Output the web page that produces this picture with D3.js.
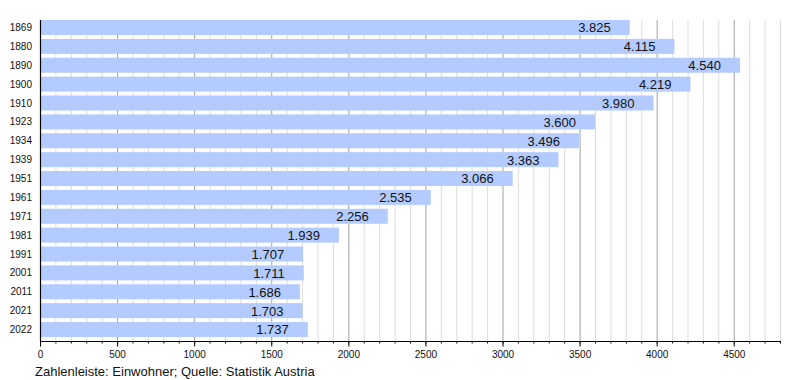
<!DOCTYPE html>
<html><head><meta charset="utf-8">
<script src="https://cdn.jsdelivr.net/npm/d3@7"></script>
<style>body{margin:0;background:#fff}svg{display:block;font-family:"Liberation Sans",Arial,sans-serif}</style>
</head><body>
<script>
const years = ["1869","1880","1890","1900","1910","1923","1934","1939","1951","1961","1971","1981","1991","2001","2011","2021","2022"];
const population = [3825,4115,4540,4219,3980,3600,3496,3363,3066,2535,2256,1939,1707,1711,1686,1703,1737];
const valueLabels = ["3.825","4.115","4.540","4.219","3.980","3.600","3.496","3.363","3.066","2.535","2.256","1.939","1.707","1.711","1.686","1.703","1.737"];
const majorTicks = [0,500,1000,1500,2000,2500,3000,3500,4000,4500];
const footer = "Zahlenleiste: Einwohner; Quelle: Statistik Austria";

const W = 800, H = 380;
const svg = d3.select("body").append("svg").attr("width", W).attr("height", H);
const x = d3.scaleLinear().domain([0, 4800]).range([40, 780]);
const y = d3.scaleBand().domain(years).range([20, 340.9]).paddingInner(0.205).paddingOuter(0.1025).align(0);
const plotTop = 20, plotBottom = 341;

const minor = d3.range(100, 4801, 100).filter(v => v % 500 !== 0);
svg.append("g").selectAll("line").data(minor).join("line")
  .attr("x1", d => x(d) + 0.5).attr("x2", d => x(d) + 0.5)
  .attr("y1", plotTop).attr("y2", plotBottom).attr("stroke", "#dddddd").attr("stroke-width", 1);
svg.append("g").selectAll("line").data(majorTicks.filter(d => d > 0)).join("line")
  .attr("x1", d => x(d) + 0.5).attr("x2", d => x(d) + 0.5)
  .attr("y1", plotTop).attr("y2", plotBottom).attr("stroke", "#a0a0a0").attr("stroke-width", 1);

svg.append("g").selectAll("rect").data(years).join("rect")
  .attr("x", x(0)).attr("y", d => y(d))
  .attr("width", (d, i) => x(population[i]) - x(0))
  .attr("height", y.bandwidth()).attr("fill", "#b3cbff");

svg.append("g").selectAll("text").data(years).join("text")
  .attr("x", (d, i) => x(population[i]) - 19)
  .attr("y", d => y(d) + y.bandwidth() / 2)
  .attr("dy", "0.38em").attr("text-anchor", "end")
  .attr("font-size", 13).attr("fill", "#111")
  .text((d, i) => valueLabels[i]);

svg.append("g").selectAll("text").data(years).join("text")
  .attr("x", 32).attr("y", d => y(d) + y.bandwidth() / 2)
  .attr("dy", "0.36em").attr("text-anchor", "end")
  .attr("font-size", 10).attr("fill", "#111").text(d => d);

// left axis line
svg.append("line").attr("x1", 40.5).attr("x2", 40.5).attr("y1", plotTop).attr("y2", plotBottom + 0.5)
  .attr("stroke", "#000").attr("stroke-width", 1.2);

// bottom axis
const axisMinor = d3.axisBottom(x).tickValues(d3.range(0, 4801, 100)).tickSize(2.5).tickFormat("");
const gMinor = svg.append("g").attr("transform", `translate(0,${plotBottom})`).call(axisMinor);
gMinor.select(".domain").remove();
const axisMajor = d3.axisBottom(x).tickValues(majorTicks).tickSize(5.5).tickPadding(4).tickFormat(d3.format("d"));
const gAx = svg.append("g").attr("transform", `translate(0,${plotBottom})`).call(axisMajor);
gAx.select(".domain").remove();
svg.append("line").attr("x1", 40).attr("x2", 781).attr("y1", plotBottom + 0.5).attr("y2", plotBottom + 0.5)
  .attr("stroke", "#000").attr("stroke-width", 1.2);
svg.selectAll(".tick line").attr("stroke", "#000");
gAx.selectAll("text").attr("font-size", 10).attr("font-family", "Liberation Sans, Arial, sans-serif").attr("fill", "#111");

svg.append("text").attr("x", 35).attr("y", 376).attr("font-size", 13).attr("fill", "#111").text(footer);
</script>
</body></html>
